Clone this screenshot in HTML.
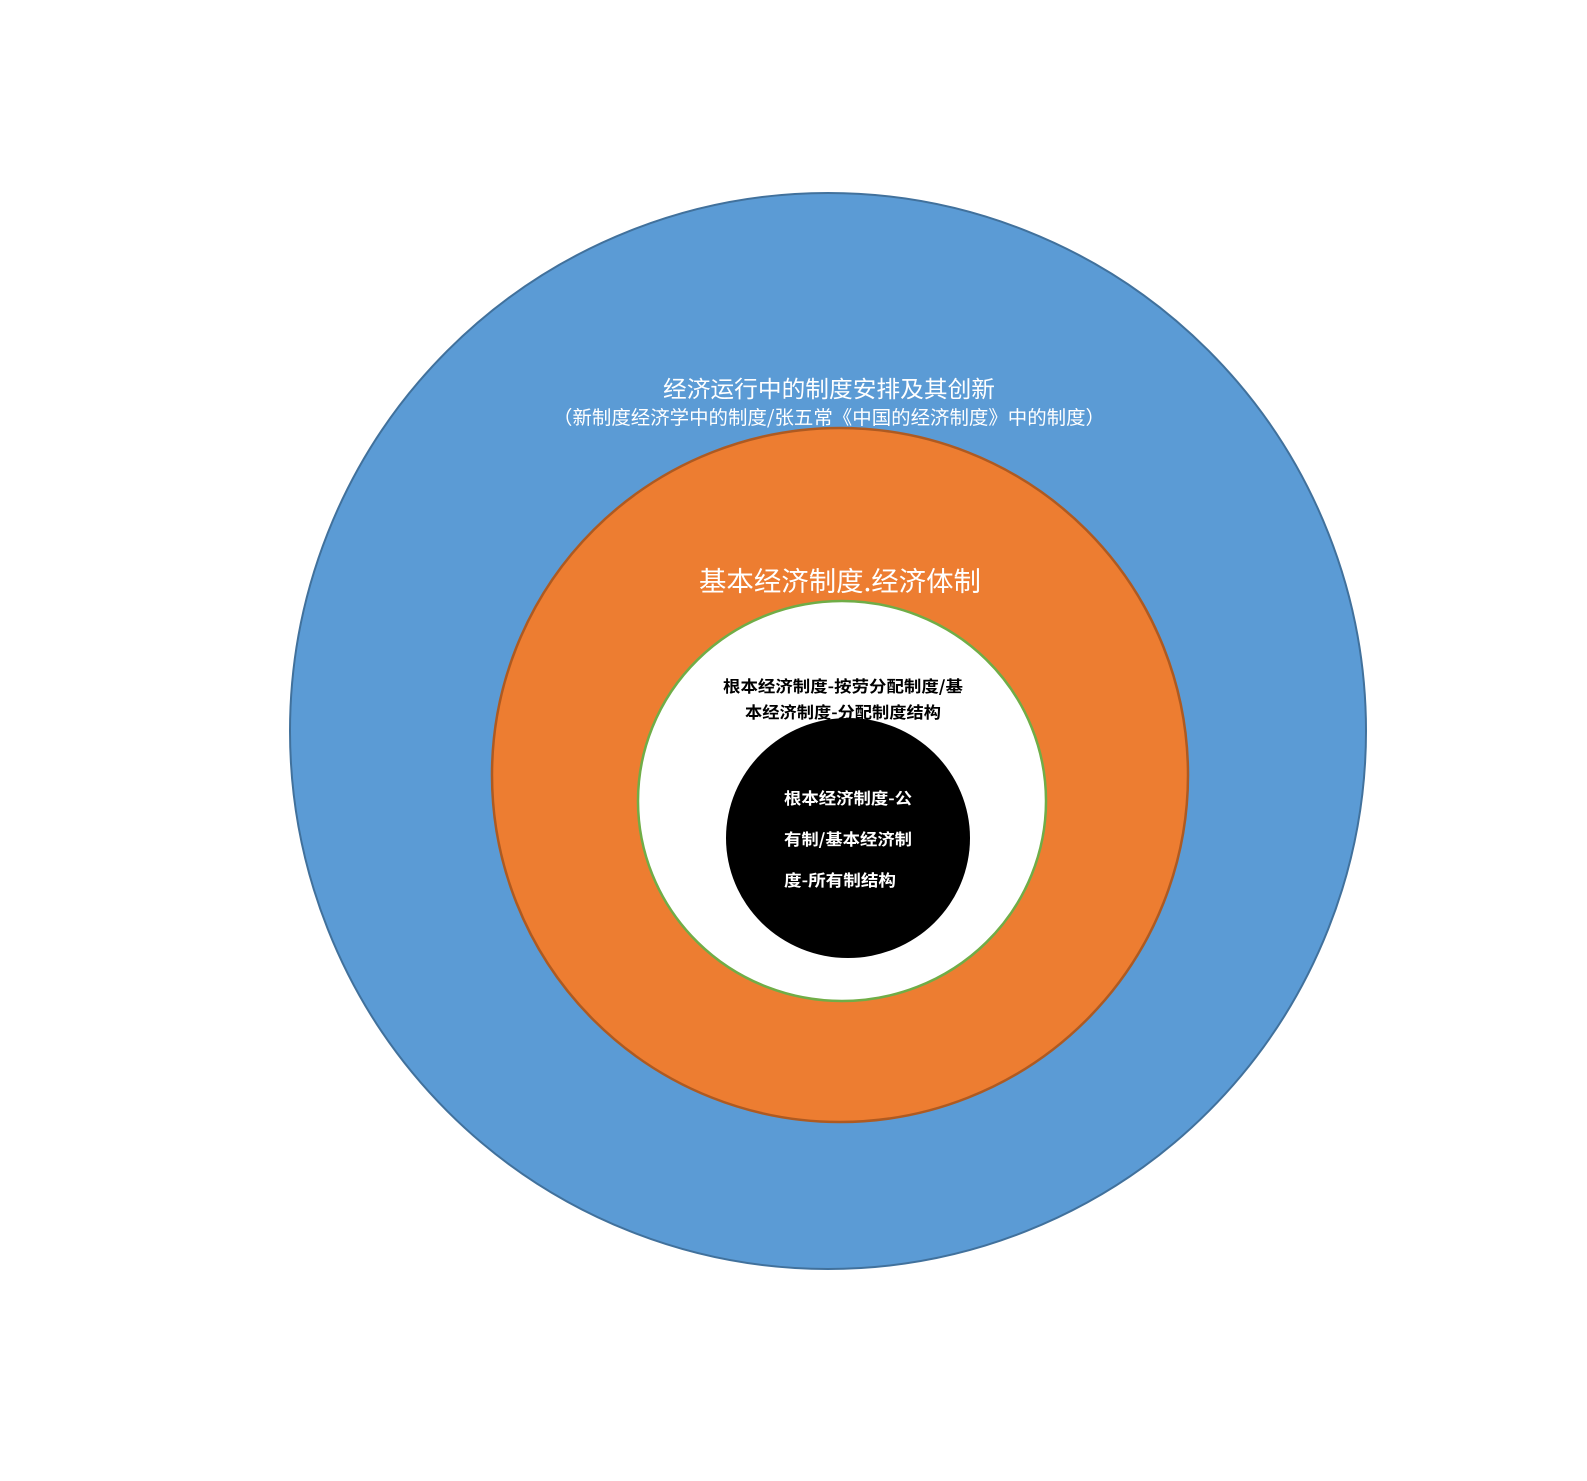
<!DOCTYPE html>
<html><head><meta charset="utf-8"><style>
html,body{margin:0;padding:0;background:#fff;}
svg{display:block;}
text{font-family:"Noto Sans CJK SC","Liberation Sans",sans-serif;}
</style></head><body>
<svg width="1587" height="1481" viewBox="0 0 1587 1481" xmlns="http://www.w3.org/2000/svg">
<circle cx="828" cy="731" r="538" fill="#5B9BD5" stroke="#41719C" stroke-width="2"/>
<ellipse cx="840" cy="775" rx="348" ry="347" fill="#ED7D31" stroke="#AE5A21" stroke-width="2.5"/>
<ellipse cx="842" cy="801" rx="204" ry="200" fill="#fff" stroke="#70AD47" stroke-width="2.5"/>
<ellipse cx="848" cy="838" rx="122" ry="120" fill="#000"/>
<text x="663" y="397" font-size="23" fill="#fff" textLength="332" lengthAdjust="spacingAndGlyphs">经济运行中的制度安排及其创新</text>
<text x="553" y="424" font-size="19" fill="#fff" textLength="552" lengthAdjust="spacingAndGlyphs">（新制度经济学中的制度/张五常《中国的经济制度》中的制度）</text>
<text x="699" y="591" font-size="27" fill="#fff" textLength="282" lengthAdjust="spacingAndGlyphs">基本经济制度.经济体制</text>
<text x="723" y="692" font-size="16" font-weight="bold" fill="#000" textLength="240" lengthAdjust="spacingAndGlyphs">根本经济制度-按劳分配制度/基</text>
<text x="745" y="718" font-size="16" font-weight="bold" fill="#000" textLength="196" lengthAdjust="spacingAndGlyphs">本经济制度-分配制度结构</text>
<text x="784" y="804" font-size="16" font-weight="bold" fill="#fff" textLength="128" lengthAdjust="spacingAndGlyphs">根本经济制度-公</text>
<text x="784" y="845" font-size="16" font-weight="bold" fill="#fff" textLength="128" lengthAdjust="spacingAndGlyphs">有制/基本经济制</text>
<text x="784" y="886" font-size="16" font-weight="bold" fill="#fff" textLength="112" lengthAdjust="spacingAndGlyphs">度-所有制结构</text>
</svg>
</body></html>
